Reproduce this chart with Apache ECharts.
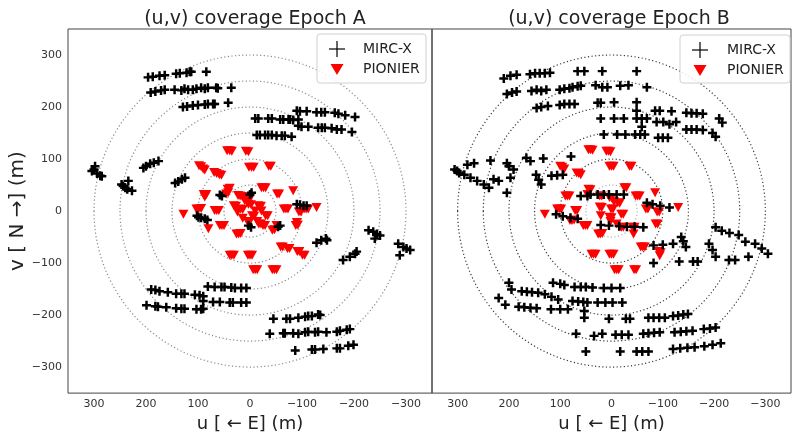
<!DOCTYPE html>
<html><head><meta charset="utf-8">
<script src="https://cdn.jsdelivr.net/npm/echarts@6/dist/echarts.min.js"></script>
<style>html,body{margin:0;padding:0;background:#fff}#c{width:794px;height:438px}</style>
</head><body><div id="c"></div>
<script>
const panelTitles = ['(u,v) coverage Epoch A', '(u,v) coverage Epoch B'];
const seriesNames = ['MIRC-X', 'PIONIER'];
const xAxisName = 'u [ \u2190 E] (m)';
const yAxisName = 'v [ N \u2192] (m)';
const radii = [50, 100, 150, 200, 250, 300];

const mircA = [
[196,257],[187,258],[174,260],[164,261],[142,264],[135,265],[122,266],[116,268],[113,268],[84,268],
[191,228],[182,230],[171,232],[164,233],[145,233],[132,232],[126,235],[119,233],[110,233],[103,235],[94,237],[87,235],[81,237],[65,237],[62,236],[36,237],
[129,200],[121,201],[110,203],[100,204],[87,205],[81,206],[71,206],[68,206],[42,208],
[304,77],[298,86],[300,80],[294,72],[288,68],[285,67],
[247,51],[244,48],[240,45],[234,58],[227,39],[236,42],
[205,83],[200,86],[192,91],[185,93],[176,96],
[144,54],[138,57],[131,61],[125,64],
[54,29],[58,31],[0,32],[-3,35],[-90,13],[-96,12],[-103,10],[-109,10],
[-10,178],[-16,178],[-35,178],[-42,178],[-58,176],[-64,176],[-74,176],[-77,176],[-83,175],[-93,176],
[-13,146],[-19,146],[-29,146],[-35,146],[-42,146],[-51,145],[-61,145],[-67,145],[-80,143],
[-90,193],[-96,192],[-109,192],[-128,190],[-137,190],[-144,190],[-163,189],[-170,187],[-183,184],[-202,181],
[-93,164],[-99,162],[-112,162],[-131,160],[-138,160],[-144,160],[-157,159],[-167,157],[-176,157],[-196,152],
[102,-9],[99,-12],[94,-13],[87,-15],[82,-17],
[3,-28],[-2,-31],[-58,-28],[-54,-30],
[190,-151],[182,-152],[174,-154],[158,-156],[142,-159],[132,-159],[126,-159],[106,-161],[97,-162],[90,-164],
[199,-181],[182,-183],[177,-184],[161,-185],[142,-187],[132,-188],[126,-188],[103,-189],[94,-189],[90,-188],
[81,-145],[68,-146],[55,-146],[49,-146],[36,-147],[29,-148],[17,-148],[7,-148],
[90,-173],[71,-175],[58,-175],[39,-176],[33,-176],[17,-176],[7,-176],
[-128,-61],[-137,-56],[-146,-53],[-148,-56],
[-228,-37],[-237,-40],[-244,-44],[-250,-47],[-240,-53],
[-179,-94],[-192,-88],[-202,-82],[-205,-78],
[-285,-63],[-295,-69],[-301,-72],[-308,-75],[-288,-85],
[-45,-207],[-70,-207],[-77,-207],[-93,-205],[-106,-203],[-112,-202],[-119,-202],[-131,-199],[-135,-200],
[-38,-236],[-64,-235],[-67,-235],[-83,-235],[-93,-236],[-106,-233],[-112,-232],[-125,-233],[-131,-232],[-147,-233],[-167,-232],[-173,-230],[-186,-228],[-192,-227],
[-87,-268],[-119,-266],[-125,-266],[-141,-265],[-167,-264],[-173,-264],[-189,-259],[-199,-257]
];

const pionierA = [
[44,116],[39,116],[35,115],[8,115],[3,114],[98,87],[94,85],[90,81],[87,79],[69,74],[64,72],[59,70],[55,69],
[2,84],[-3,84],[-7,84],[-36,86],[-40,86],[43,42],[39,44],[46,33],[42,35],[89,32],[84,32],[87,27],
[23,30],[19,29],[15,28],[5,23],[1,22],[-22,45],[-26,45],[-30,45],[-52,33],[-56,33],[-83,39],
[103,4],[99,4],[94,5],[128,-6],[68,1],[64,1],[60,1],[31,10],[27,9],[18,4],[14,3],[3,13],[-2,12],
[-16,10],[-21,9],[-4,-9],[-8,-10],[-30,-9],[-34,-9],[-65,4],[-69,4],[-73,4],[-94,-2],[-98,-2],
[-104,4],[-108,4],[-112,4],[-128,7],[80,-34],[58,-28],[54,-28],[50,-28],[26,-44],[22,-44],[18,-43],
[-17,-25],[-21,-25],[-25,-28],[-29,-28],[-43,-37],[-47,-36],[-51,-28],[-88,-28],[-92,-27],[-90,-22],
[-59,-69],[-63,-69],[-72,-72],[-76,-72],[-91,-78],[-95,-78],[-101,-85],[-105,-85],
[39,-85],[35,-85],[31,-85],[4,-85],[0,-85],[-4,-85],[-6,-113],[-10,-113],[-14,-113],[-43,-113],[-47,-113],[-51,-113],
[10,20],[6,19],[-10,0],[14,-14],[5,-20],[1,-21],[-14,-20],[24,-2],[-22,0]
];

const mircB = [
[210,255],[197,260],[185,262],[159,263],[149,265],[140,265],[130,265],[120,266],[66,269],[53,269],[18,269],[-49,269],
[204,225],[194,228],[185,230],[156,231],[146,233],[137,231],[127,233],[101,233],[92,235],[82,236],[76,238],[66,240],[60,241],[31,242],[18,238],[8,238],[-17,241],[-33,242],[-69,238],
[146,198],[137,200],[124,202],[101,204],[92,206],[82,206],[72,206],[27,208],[21,208],[-5,209],[-49,209],
[21,178],[-5,178],[-24,178],[-49,178],[-59,178],[-69,178],
[-49,193],[-85,193],[-94,193],[-117,192],[-146,189],[-156,188],[-166,188],[-178,187],[-210,178],[-216,170],
[-59,162],[-88,171],[-101,171],[-113,167],[-126,171],[-146,157],[-156,157],[-166,157],[-178,156],[-197,150],[-203,143],
[15,147],[-11,147],[-27,147],[-46,147],[-56,147],[-65,147],[-91,141],[-100,141],[-110,141],
[306,80],[301,77],[297,73],[281,89],[268,92],[236,97],[204,92],[200,86],[191,80],[166,102],[158,96],[133,101],[79,105],
[287,70],[275,64],[262,58],[249,51],[239,45],[230,61],[220,58],[204,35],[197,64],[147,70],[142,60],[137,51],[117,68],[106,69],[95,70],
[60,29],[47,29],[41,32],[27,32],[15,32],[5,32],[-10,32],[-24,32],[-69,16],[-80,13],[-95,10],[-113,7],
[108,-6],[95,-10],[80,-13],[66,-15],[21,-27],[5,-28],[-15,-29],[-30,-30],[-45,-30],[-62,-31],
[-82,-66],[-100,-65],[-120,-63],[-136,-50],[-140,-58],[-145,-69],[-203,-31],[-215,-38],[-230,-42],[-248,-46],
[-190,-63],[-197,-75],[-203,-88],[-261,-59],[-280,-63],[-293,-72],[-305,-82],[-267,-88],[-229,-94],[-241,-94],
[-82,-100],[-132,-97],[-159,-97],[-168,-97],
[200,-138],[195,-151],[175,-154],[165,-155],[155,-156],[143,-157],[130,-160],[117,-165],[104,-170],
[114,-138],[100,-140],[92,-142],[72,-146],[60,-146],[50,-146],[37,-147],[15,-148],[0,-148],[-17,-148],
[220,-167],[207,-180],[181,-184],[170,-185],[158,-186],[146,-187],[118,-189],[100,-189],[85,-189],
[76,-173],[65,-174],[55,-175],[47,-176],[27,-176],[12,-176],[-2,-176],[-21,-176],
[53,-192],[53,-205],[5,-207],[-28,-207],[-36,-207],[-72,-205],[-82,-205],[-93,-205],[-104,-205],[-120,-202],[-130,-201],[-140,-199],[-149,-198],
[69,-236],[34,-240],[18,-236],[-8,-238],[-20,-238],[-33,-238],[-62,-236],[-72,-235],[-83,-234],[-94,-233],[-123,-233],[-135,-232],[-146,-231],[-158,-230],[-180,-227],[-192,-226],[-203,-224],
[50,-270],[-17,-270],[-49,-270],[-60,-270],[-72,-270],[-120,-265],[-134,-264],[-148,-263],[-162,-262],[-181,-260],[-197,-257],[-213,-254]
];

const pionierB = [
[45,118],[41,118],[37,117],[10,115],[6,115],[2,114],[100,86],[96,84],[92,81],[68,73],[64,72],[60,70],
[4,86],[0,86],[-4,86],[-35,86],[-39,86],[45,42],[41,41],[47,32],[90,29],[86,29],[82,29],[23,29],[19,29],
[-25,45],[-29,45],[-47,29],[-51,29],[-55,29],[-85,35],[4,26],[0,25],[-12,16],[-16,15],[23,8],[19,7],
[1,4],[-3,4],[-19,-6],[-23,-6],[130,-6],[106,4],[102,4],[98,4],[71,1],[67,1],[21,-9],[4,-12],[0,-13],
[-67,4],[-71,4],[-89,-2],[-93,-2],[-130,7],[81,-18],[77,-18],[73,-17],[55,-28],[51,-28],[47,-28],
[26,-44],[22,-44],[18,-43],[-19,-31],[-23,-31],[-41,-31],[-45,-31],[-43,-44],[-86,-25],[-90,-25],
[-57,-69],[-61,-69],[-65,-69],[-92,-78],[-96,-80],[-94,-86],[39,-83],[35,-83],[31,-83],[4,-83],[0,-83],[-4,-83],
[-6,-113],[-10,-113],[-14,-113],[-44,-113],[-48,-113],[-5,18],[2,-20],[-10,-25]
];

const FONT = 'DejaVu Sans';
const plusPath = 'path://M2.9,0H5.1V2.9H8V5.1H5.1V8H2.9V5.1H0V2.9H2.9Z';
const triPath = 'path://M0,0L10,0L5,8.66Z';

function tickFmt(v) {
  if (v % 100 !== 0) return '';
  return v < 0 ? '\u2212' + (-v) : String(v);
}

const grids = [
  {left: 68, top: 29, width: 364, height: 369},
  {left: 432, top: 29, width: 364, height: 369}
];

function circleSeries(i) {
  return {
    type: 'custom', xAxisIndex: i, yAxisIndex: i, silent: true, z: 1, clip: true,
    data: radii.map(r => [r]),
    renderItem: function (params, api) {
      const r = api.value(0);
      const c = api.coord([0, 0]);
      const s = api.size([r, r]);
      const rx = Math.abs(s[0]), ry = Math.abs(s[1]);
      const stroke = i === 0 ? '#8a8a8a' : (r === 50 ? '#b0b0b0' : '#3a3a3a');
      return {
        type: 'path',
        shape: {
          pathData: 'M' + (c[0] - rx) + ',' + c[1] + ' A' + rx + ',' + ry + ' 0 1 0 ' + (c[0] + rx) + ',' + c[1] +
                    ' A' + rx + ',' + ry + ' 0 1 0 ' + (c[0] - rx) + ',' + c[1] + ' Z',
          x: c[0] - rx, y: c[1] - ry, width: 2 * rx, height: 2 * ry, layout: 'cover'
        },
        style: {fill: 'none', stroke: stroke, lineWidth: 1.2, lineDash: [1.2, 2.4]}
      };
    }
  };
}

function scatter(i, name, data, symbol, size, color, z) {
  return {
    type: 'scatter', name: name, xAxisIndex: i, yAxisIndex: i, data: data,
    symbol: symbol, symbolSize: size, z: z, silent: true,
    itemStyle: {color: color, opacity: 1}
  };
}

function legendGraphic(bx, by, bw, bh, mx, tx) {
  const y1 = by + 15, y2 = by + 35;
  return [
    {type: 'rect', z: 100, shape: {x: bx, y: by, width: bw, height: bh, r: 3},
     style: {fill: 'rgba(255,255,255,0.85)', stroke: '#d0d0d0', lineWidth: 1}},
    {type: 'line', z: 101, shape: {x1: mx - 8, y1: y1, x2: mx + 8, y2: y1}, style: {stroke: '#000', lineWidth: 1.2}},
    {type: 'line', z: 101, shape: {x1: mx, y1: y1 - 8, x2: mx, y2: y1 + 8}, style: {stroke: '#000', lineWidth: 1.2}},
    {type: 'polygon', z: 101, shape: {points: [[mx - 6.5, y2 - 5], [mx + 6.5, y2 - 5], [mx, y2 + 6]]}, style: {fill: '#ff0000'}},
    {type: 'text', z: 101, x: tx, y: y1, style: {text: seriesNames[0], font: '14px "' + FONT + '"', fill: '#222', verticalAlign: 'middle'}},
    {type: 'text', z: 101, x: tx, y: y2, style: {text: seriesNames[1], font: '14px "' + FONT + '"', fill: '#222', verticalAlign: 'middle'}}
  ];
}

const xAxes = [0, 1].map(i => ({
  gridIndex: i, type: 'value', inverse: true, min: -350, max: 350, interval: 50,
  axisLine: {show: false}, axisTick: {show: false}, splitLine: {show: false},
  axisLabel: {formatter: tickFmt, fontSize: 11, color: '#333', margin: 6, fontFamily: FONT},
  name: xAxisName, nameLocation: 'middle', nameGap: 20,
  nameTextStyle: {fontSize: 18, color: '#222', fontFamily: FONT, verticalAlign: 'top'}
}));
const yAxes = [0, 1].map(i => ({
  gridIndex: i, type: 'value', min: -350, max: 350, interval: 50,
  axisLine: {show: false}, axisTick: {show: false}, splitLine: {show: false},
  axisLabel: {show: i === 0, formatter: tickFmt, fontSize: 11, color: '#333', margin: 6, fontFamily: FONT},
  name: i === 0 ? yAxisName : '', nameLocation: 'middle', nameGap: 36,
  nameTextStyle: {fontSize: 20, color: '#222', fontFamily: FONT}
}));

const chart = echarts.init(document.getElementById('c'), null, {renderer: 'canvas'});
chart.setOption({
  backgroundColor: '#fff',
  animation: false,
  title: panelTitles.map((t, i) => ({
    text: t, left: i === 0 ? 250 : 614, top: 5, textAlign: 'center',
    textStyle: {fontSize: 19, fontWeight: 'normal', color: '#222', fontFamily: FONT}
  })),
  grid: grids.map(g => Object.assign({show: true, borderColor: '#444', borderWidth: 1, backgroundColor: 'transparent'}, g)),
  xAxis: xAxes,
  yAxis: yAxes,
  series: [
    circleSeries(0), circleSeries(1),
    scatter(0, seriesNames[1], pionierA, triPath, [10, 9], '#ff0000', 2),
    scatter(0, seriesNames[0], mircA, plusPath, 9, '#000', 3),
    scatter(1, seriesNames[1], pionierB, triPath, [10, 9], '#ff0000', 2),
    scatter(1, seriesNames[0], mircB, plusPath, 9, '#000', 3)
  ],
  graphic: legendGraphic(317, 34, 109, 49, 337, 363).concat(legendGraphic(680, 35, 110, 48, 700, 727))
});
</script>
</body></html>
